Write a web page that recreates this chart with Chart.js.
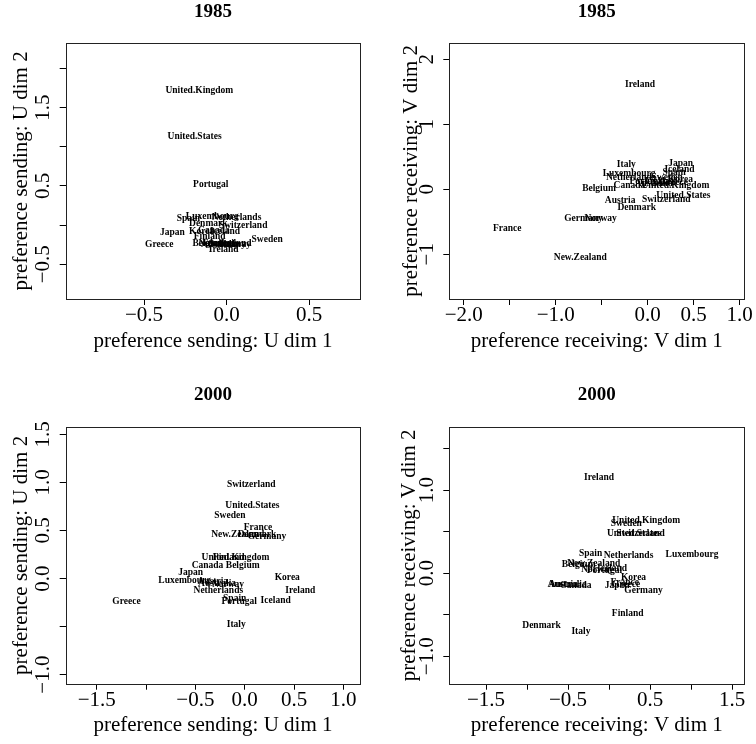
<!DOCTYPE html>
<html>
<head>
<meta charset="utf-8">
<script src="https://cdn.jsdelivr.net/npm/chart.js@4/dist/chart.umd.min.js"></script>
<style>
  html, body { margin: 0; padding: 0; background: #fff; }
  #wrap { position: relative; width: 756px; height: 744px; }
  canvas { position: absolute; }
</style>
</head>
<body>
<div id="wrap">
  <canvas id="c1" width="378" height="372" style="left:0;top:0"></canvas>
  <canvas id="c2" width="378" height="372" style="left:378px;top:0"></canvas>
  <canvas id="c3" width="378" height="372" style="left:0;top:372px"></canvas>
  <canvas id="c4" width="378" height="372" style="left:378px;top:372px"></canvas>
</div>
<script>
// ---------- DATA ----------
// Panel 1: 1985, preference sending (U)
const names1985U = ["United.Kingdom","United.States","Portugal","Japan","Greece","Sweden","Luxembourg","Spain","Netherlands","Denmark","Switzerland","Korea","Canada","Iceland","Finland","Belgium","Norway","Ireland","Austria","Australia","Italy","Germany","France","New.Zealand"];
const u1985dim1 = [-0.165,-0.194,-0.096,-0.328,-0.408,0.245,-0.087,-0.232,0.060,-0.111,0.100,-0.151,-0.077,-0.010,-0.103,-0.105,0.050,-0.018,-0.020,-0.040,0.020,0.000,-0.060,-0.010];
const u1985dim2 = [1.715,1.131,0.517,-0.089,-0.254,-0.182,0.114,0.081,0.094,0.018,-0.004,-0.084,-0.064,-0.084,-0.152,-0.236,-0.245,-0.309,-0.235,-0.245,-0.245,-0.250,-0.240,-0.230];

// Panel 2: 1985, preference receiving (V)
const names1985V = ["Ireland","Italy","Japan","Iceland","Spain","Luxembourg","Netherlands","Belgium","Canada","United.Kingdom","United.States","Switzerland","Austria","Denmark","Germany","Norway","France","New.Zealand","Sweden","Portugal","Finland","Greece","Korea","Australia"];
const v1985dim1 = [-0.083,-0.232,0.359,0.345,0.287,-0.203,-0.185,-0.529,-0.199,0.301,0.388,0.201,-0.300,-0.119,-0.699,-0.511,-1.527,-0.733,0.211,-0.007,0.138,0.283,0.355,0.065];
const v1985dim2 = [1.605,0.379,0.394,0.297,0.255,0.235,0.179,0.005,0.055,0.055,-0.098,-0.165,-0.180,-0.288,-0.457,-0.457,-0.611,-1.046,0.185,0.117,0.117,0.102,0.143,0.092];

// Panel 3: 2000, preference sending (U)
const names2000U = ["Switzerland","United.States","Sweden","France","New.Zealand","Denmark","Germany","United.Kingdom","Finland","Canada","Belgium","Japan","Luxembourg","Austria","Australia","Norway","Netherlands","Korea","Ireland","Iceland","Spain","Portugal","Greece","Italy"];
const u2000dim1 = [0.066,0.078,-0.150,0.135,-0.071,0.125,0.226,-0.093,-0.162,-0.377,-0.020,-0.547,-0.608,-0.323,-0.280,-0.169,-0.267,0.432,0.564,0.314,-0.101,-0.056,-1.198,-0.086];
const u2000dim2 = [0.977,0.755,0.651,0.527,0.454,0.454,0.440,0.215,0.222,0.132,0.132,0.059,-0.024,-0.028,-0.055,-0.062,-0.121,0.007,-0.128,-0.232,-0.208,-0.243,-0.243,-0.478];

// Panel 4: 2000, preference receiving (V)
const names2000V = ["Ireland","United.Kingdom","Sweden","United.States","Switzerland","Luxembourg","Spain","Netherlands","Belgium","New.Zealand","Norway","Iceland","Portugal","Austria","Australia","Canada","Korea","France","Greece","Japan","Germany","Finland","Denmark","Italy"];
const v2000dim1 = [-0.122,0.453,0.211,0.305,0.384,1.012,-0.224,0.238,-0.370,-0.187,-0.144,0.037,-0.057,-0.565,-0.504,-0.407,0.299,0.191,0.207,0.100,0.421,0.228,-0.823,-0.343];
const v2000dim2 = [1.148,0.630,0.598,0.478,0.482,0.229,0.233,0.213,0.104,0.120,0.048,0.060,0.036,-0.132,-0.132,-0.144,-0.056,-0.112,-0.132,-0.152,-0.205,-0.486,-0.634,-0.706];

// Tick values and labels
const ticksX1 = [-0.5, 0, 0.5];            const labelsX1 = ["\u22120.5","0.0","0.5"];
const ticksY1 = [-0.5, 0, 0.5, 1, 1.5, 2]; const labelsY1 = ["\u22120.5","","0.5","","1.5",""];
const ticksX2 = [-2, -1.5, -1, -0.5, 0, 0.5, 1]; const labelsX2 = ["\u22122.0","","\u22121.0","","0.0","0.5","1.0"];
const ticksY2 = [-1, 0, 1, 2];             const labelsY2 = ["\u22121","0","1","2"];
const ticksX3 = [-1.5, -1, -0.5, 0, 0.5, 1]; const labelsX3 = ["\u22121.5","","\u22120.5","0.0","0.5","1.0"];
const ticksY3 = [-1, -0.5, 0, 0.5, 1, 1.5]; const labelsY3 = ["\u22121.0","","0.0","0.5","1.0","1.5"];
const ticksX4 = [-1.5, -1, -0.5, 0, 0.5, 1, 1.5]; const labelsX4 = ["\u22121.5","","\u22120.5","","0.5","","1.5"];
const ticksY4 = [-1, -0.5, 0, 0.5, 1, 1.5]; const labelsY4 = ["\u22121.0","","0.0","","1.0",""];

const titles = ["1985","1985","2000","2000"];
const xTitles = ["preference sending: U dim 1","preference receiving: V dim 1","preference sending: U dim 1","preference receiving: V dim 1"];
const yTitles = ["preference sending: U dim 2","preference receiving: V dim 2","preference sending: U dim 2","preference receiving: V dim 2"];

// ---------- RENDERING ----------
const FAMILY = "'Liberation Serif', 'Times New Roman', Times, serif";
Chart.defaults.font.family = FAMILY;
Chart.defaults.color = '#000';

const measureCtx = document.createElement('canvas').getContext('2d');
function textW(str, size) {
  measureCtx.font = size + 'px ' + FAMILY;
  return measureCtx.measureText(str).width;
}

const labelPlugin = {
  id: 'ptLabels',
  afterDatasetsDraw(chart, args, opts) {
    const ctx = chart.ctx;
    const meta = chart.getDatasetMeta(0);
    ctx.save();
    ctx.font = 'bold 9.5px ' + FAMILY;
    ctx.fillStyle = '#000';
    ctx.textAlign = 'center';
    ctx.textBaseline = 'middle';
    meta.data.forEach((el, i) => {
      ctx.fillText(opts.names[i], el.x, el.y);
    });
    ctx.restore();
  }
};

const boxPlugin = {
  id: 'plotBox',
  afterDraw(chart) {
    const a = chart.chartArea, ctx = chart.ctx;
    ctx.save();
    ctx.strokeStyle = '#222';
    ctx.lineWidth = 1;
    ctx.strokeRect(Math.round(a.left) + 0.5, Math.round(a.top) + 0.5,
                   Math.round(a.right) - Math.round(a.left), Math.round(a.bottom) - Math.round(a.top));
    ctx.restore();
  }
};

function makePanel(id, p) {
  const data = p.xs.map((x, i) => ({ x: x, y: p.ys[i] }));
  const widestY = Math.max(...p.ylabels.map(s => s ? textW(s, 21) : 0));
  new Chart(document.getElementById(id), {
    type: 'scatter',
    data: { datasets: [{ data: data, pointRadius: 0, pointHoverRadius: 0, showLine: false }] },
    plugins: [labelPlugin, boxPlugin],
    options: {
      responsive: false,
      animation: false,
      events: [],
      devicePixelRatio: 1,
      layout: { padding: { left: 0, top: 0, bottom: 0, right: p.padRight } },
      plugins: {
        legend: { display: false },
        tooltip: { enabled: false },
        title: {
          display: true, text: p.title, fullSize: false,
          font: { size: 19, weight: 'bold', family: FAMILY },
          color: '#000',
          padding: { top: p.titleTop, bottom: p.titleBottom }
        },
        ptLabels: { names: p.names }
      },
      scales: {
        x: {
          type: 'linear', position: 'bottom',
          min: p.xmin, max: p.xmax,
          afterBuildTicks: (s) => { s.ticks = p.xticks.map(v => ({ value: v })); },
          afterFit: (s) => { s.height = p.xHeight; },
          ticks: {
            autoSkip: false, maxRotation: 0, minRotation: 0,
            padding: p.xTickPad,
            font: { size: 21 },
            color: '#000',
            callback: (v, i) => p.xlabels[i]
          },
          grid: { display: true, drawOnChartArea: false, drawTicks: true, tickLength: 6, color: '#000', lineWidth: 1 },
          border: { display: false },
          title: {
            display: true, text: p.xTitle, color: '#000',
            font: { size: 21 },
            padding: { top: 0, bottom: p.xTitlePad }
          }
        },
        y: {
          type: 'linear', position: 'left',
          min: p.ymin, max: p.ymax,
          afterBuildTicks: (s) => { s.ticks = p.yticks.map(v => ({ value: v })); },
          afterFit: (s) => { s.width = p.yWidth; },
          ticks: {
            autoSkip: false, minRotation: 90, maxRotation: 90,
            crossAlign: 'center',
            padding: 16 - widestY / 2,
            font: { size: 21 },
            color: '#000',
            callback: (v, i) => p.ylabels[i]
          },
          grid: { display: true, drawOnChartArea: false, drawTicks: true, tickLength: 6, color: '#000', lineWidth: 1 },
          border: { display: false },
          title: {
            display: true, text: p.yTitle, color: '#000',
            font: { size: 21 },
            padding: { top: p.yTitlePad, bottom: 0 }
          }
        }
      }
    }
  });
}

makePanel('c1', {
  names: names1985U, xs: u1985dim1, ys: u1985dim2,
  xmin: -0.974, xmax: 0.809, ymin: -0.943, ymax: 2.327,
  xticks: ticksX1, xlabels: labelsX1, yticks: ticksY1, ylabels: labelsY1,
  title: titles[0], xTitle: xTitles[0], yTitle: yTitles[0],
  padRight: 17.7, yWidth: 65.7, xHeight: 73,
  titleTop: 0.9, titleBottom: 19.0,
  xTickPad: -2.6, xTitlePad: 17.7, yTitlePad: 9.1
});
makePanel('c2', {
  names: names1985V, xs: v1985dim1, ys: v1985dim2,
  xmin: -2.157, xmax: 1.05, ymin: -1.688, ymax: 2.255,
  xticks: ticksX2, xlabels: labelsX2, yticks: ticksY2, ylabels: labelsY2,
  title: titles[1], xTitle: xTitles[1], yTitle: yTitles[1],
  padRight: 11.7, yWidth: 71.3, xHeight: 73,
  titleTop: 0.9, titleBottom: 19.0,
  xTickPad: -2.6, xTitlePad: 17.7, yTitlePad: 20.7
});
makePanel('c3', {
  names: names2000U, xs: u2000dim1, ys: u2000dim2,
  xmin: -1.814, xmax: 1.172, ymin: -1.094, ymax: 1.576,
  xticks: ticksX3, xlabels: labelsX3, yticks: ticksY3, ylabels: labelsY3,
  title: titles[2], xTitle: xTitles[2], yTitle: yTitles[2],
  padRight: 17.7, yWidth: 65.7, xHeight: 60.3,
  titleTop: 11.9, titleBottom: 20.3,
  xTickPad: -2.0, xTitlePad: 6.1, yTitlePad: 9.1
});
makePanel('c4', {
  names: names2000V, xs: v2000dim1, ys: v2000dim2,
  xmin: -1.948, xmax: 1.65, ymin: -1.33, ymax: 1.761,
  xticks: ticksX4, xlabels: labelsX4, yticks: ticksY4, ylabels: labelsY4,
  title: titles[3], xTitle: xTitles[3], yTitle: yTitles[3],
  padRight: 11.7, yWidth: 71.3, xHeight: 60.3,
  titleTop: 11.9, titleBottom: 20.3,
  xTickPad: -2.0, xTitlePad: 6.1, yTitlePad: 19.1
});
</script>
</body>
</html>
